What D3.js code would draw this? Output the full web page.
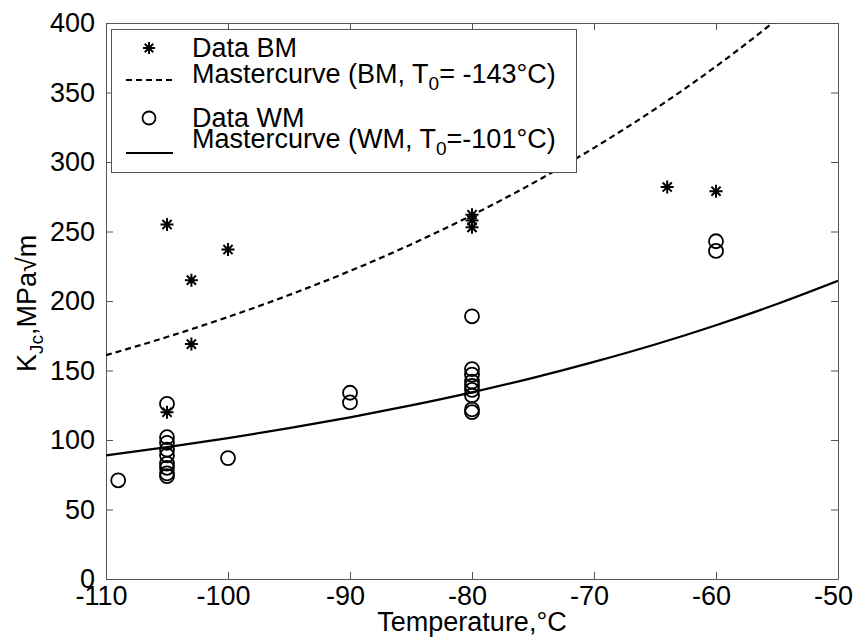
<!DOCTYPE html>
<html>
<head>
<meta charset="utf-8">
<script src="https://cdn.jsdelivr.net/npm/d3@7/dist/d3.min.js"></script>
<style>
  html, body { margin: 0; padding: 0; background: #fff; }
  svg { display: block; font-family: "Liberation Sans", Arial, Helvetica, sans-serif; }
</style>
</head>
<body>
<svg id="chart" width="853" height="637"></svg>
<script>
// Fracture toughness K_Jc of base metal (BM) and weld metal (WM) vs. test temperature
const xTicks = [-110, -100, -90, -80, -70, -60, -50];
const yTicks = [0, 50, 100, 150, 200, 250, 300, 350, 400];

// Base metal test results
const bmTemp = [-105, -105, -103, -103, -100, -80, -80, -80, -64, -60];
const bmKjc  = [255, 120, 215, 169, 237, 262, 258, 253, 282, 279];

// Weld metal test results
const wmTemp = [-109,
  -105, -105, -105, -105, -105, -105, -105, -105, -105,
  -100, -90, -90,
  -80, -80, -80, -80, -80, -80, -80, -80, -80,
  -60, -60];
const wmKjc = [71,
  126, 102, 98, 93, 89, 83, 80, 76, 74,
  87, 134, 127,
  189, 151, 147, 142, 139, 136, 132, 122, 120,
  243, 236];

// Master curves sampled every 5 °C
const curveTemp = [-110, -105, -100, -95, -90, -85, -80, -75, -70, -65, -60, -55, -50];
const bmMaster  = [161.0, 174.1, 188.5, 204.3, 221.6, 240.7, 261.7, 284.8, 310.2, 338.1, 368.8, 402.6, 440.0];
const wmMaster  = [89.0, 94.9, 101.3, 108.5, 116.3, 124.9, 134.3, 144.7, 156.2, 168.7, 182.6, 197.8, 214.5];

const legendLabels = ["Data BM", "Mastercurve (BM, T", "Data WM", "Mastercurve (WM, T"];

const svg = d3.select("#chart");
const pL = 106, pR = 838, pT = 23, pB = 579;
const W = pR - pL, H = pB - pT;
const FS = 27, SUB = 19;
const axisColor = "#555";

const x = d3.scaleLinear().domain([-110, -50]).range([pL, pR]);
const y = d3.scaleLinear().domain([0, 400]).range([pB, pT]);

// clip region for the plotted marks
svg.append("defs").append("clipPath").attr("id", "plotClip")
  .append("rect").attr("x", pL).attr("y", pT).attr("width", W).attr("height", H);

// axes with inward ticks on all four sides; plain hyphen for negative numbers
const plainNum = d => String(d);
function styleAxis(g) {
  g.selectAll("path.domain").attr("stroke", axisColor).attr("stroke-width", 1);
  g.selectAll(".tick line").attr("stroke", axisColor).attr("stroke-width", 1);
  g.selectAll(".tick text").attr("fill", "#000").style("font-size", FS + "px")
    .style("font-family", "'Liberation Sans', Arial, sans-serif");
}

svg.append("g").attr("transform", `translate(0,${pB})`)
  .call(d3.axisBottom(x).tickValues(xTicks).tickFormat(plainNum)
    .tickSizeInner(-7).tickSizeOuter(0).tickPadding(7))
  .call(styleAxis)
  .call(g => g.selectAll(".tick text").attr("dx", -5));
svg.append("g").attr("transform", `translate(0,${pT})`)
  .call(d3.axisTop(x).tickValues(xTicks).tickSizeInner(-7).tickSizeOuter(0).tickFormat(""))
  .call(styleAxis);
svg.append("g").attr("transform", `translate(${pL},0)`)
  .call(d3.axisLeft(y).tickValues(yTicks).tickFormat(plainNum)
    .tickSizeInner(-7).tickSizeOuter(0).tickPadding(11))
  .call(styleAxis);
svg.append("g").attr("transform", `translate(${pR},0)`)
  .call(d3.axisRight(y).tickValues(yTicks).tickSizeInner(-7).tickSizeOuter(0).tickFormat(""))
  .call(styleAxis);

// axis titles
svg.append("text")
  .attr("x", (pL + pR) / 2).attr("y", 631)
  .attr("text-anchor", "middle").style("font-size", FS + "px")
  .text("Temperature,°C");

const yl = svg.append("text")
  .attr("transform", "translate(36,372) rotate(-90)")
  .attr("text-anchor", "start").style("font-size", FS + "px");
yl.append("tspan").text("K");
yl.append("tspan").attr("dy", 7).style("font-size", SUB + "px").text("Jc");
yl.append("tspan").attr("dy", -7).text(",MPa√m");

// plotted marks
const plot = svg.append("g").attr("clip-path", "url(#plotClip)");

const masterLine = d3.line().x((d, i) => x(curveTemp[i])).y(d => y(d)).curve(d3.curveMonotoneX);
plot.append("path").datum(bmMaster).attr("d", masterLine)
  .attr("fill", "none").attr("stroke", "#000").attr("stroke-width", 2.2)
  .attr("stroke-dasharray", "6,4");
plot.append("path").datum(wmMaster).attr("d", masterLine)
  .attr("fill", "none").attr("stroke", "#000").attr("stroke-width", 2.2);

function starPath(s) {
  const k = s * 0.7071;
  return `M${-s},0H${s}M0,${-s}V${s}M${-k},${-k}L${k},${k}M${-k},${k}L${k},${-k}`;
}

plot.append("g").selectAll("path")
  .data(bmKjc).join("path")
  .attr("transform", (d, i) => `translate(${x(bmTemp[i])},${y(d)})`)
  .attr("d", starPath(6.5))
  .attr("fill", "none").attr("stroke", "#000").attr("stroke-width", 2);

plot.append("g").selectAll("circle")
  .data(wmKjc).join("circle")
  .attr("cx", (d, i) => x(wmTemp[i])).attr("cy", d => y(d)).attr("r", 7)
  .attr("fill", "none").attr("stroke", "#000").attr("stroke-width", 1.8);

// legend
const lg = svg.append("g");
lg.append("rect").attr("x", 111.5).attr("y", 29.5).attr("width", 465).attr("height", 143)
  .attr("fill", "#fff").attr("stroke", axisColor).attr("stroke-width", 1);

const tx = 192;
lg.append("path").attr("transform", "translate(149,48)").attr("d", starPath(6))
  .attr("fill", "none").attr("stroke", "#000").attr("stroke-width", 2);
lg.append("text").attr("x", tx).attr("y", 57).style("font-size", FS + "px").text(legendLabels[0]);

lg.append("line").attr("x1", 126).attr("x2", 173).attr("y1", 80).attr("y2", 80)
  .attr("stroke", "#000").attr("stroke-width", 2.2).attr("stroke-dasharray", "6,4");
const t2 = lg.append("text").attr("x", tx).attr("y", 83).style("font-size", FS + "px");
t2.append("tspan").text(legendLabels[1]);
t2.append("tspan").attr("dy", 7).style("font-size", SUB + "px").text("0");
t2.append("tspan").attr("dy", -7).text("= -143°C)");

lg.append("circle").attr("cx", 149).attr("cy", 118).attr("r", 6.5)
  .attr("fill", "none").attr("stroke", "#000").attr("stroke-width", 1.8);
lg.append("text").attr("x", tx).attr("y", 127).style("font-size", FS + "px").text(legendLabels[2]);

lg.append("line").attr("x1", 126).attr("x2", 173).attr("y1", 153).attr("y2", 153)
  .attr("stroke", "#000").attr("stroke-width", 2.2);
const t4 = lg.append("text").attr("x", tx).attr("y", 148).style("font-size", FS + "px");
t4.append("tspan").text(legendLabels[3]);
t4.append("tspan").attr("dy", 7).style("font-size", SUB + "px").text("0");
t4.append("tspan").attr("dy", -7).text("=-101°C)");
</script>
</body>
</html>
